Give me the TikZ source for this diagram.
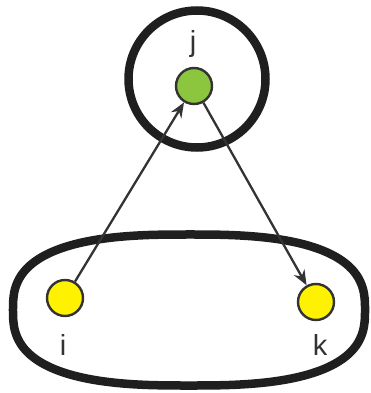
\documentclass[tikz,border=0pt]{standalone}
\usepackage{fontspec}
\setmainfont{Liberation Sans}
\usetikzlibrary{arrows.meta}
\definecolor{nodegreen}{HTML}{8CC63F}
\definecolor{nodeyellow}{HTML}{FFF200}
\definecolor{darkline}{HTML}{333333}
\begin{document}
\begin{tikzpicture}[x=1pt,y=-1pt,
  vertex/.style={circle,draw=darkline,line width=2.4pt,minimum size=36pt,inner sep=0pt},
  lab/.style={text=darkline,font=\fontsize{29}{30}\selectfont,inner sep=0pt},
  group/.style={line width=8.5pt,draw=black!88},
  link/.style={draw=darkline,line width=2.3pt,-{Stealth[length=15pt,width=12pt]}}]
\useasboundingbox (0,0) rectangle (371,393);
\draw[group] (197,79) circle (68.5);
\draw[group] plot[domain=1:361,samples=180,smooth cycle,variable=\t]
  ({189+176*sign(cos(\t))*abs(cos(\t))^0.74},{310-75.5*sign(sin(\t))*abs(sin(\t))^0.74});
\node[vertex,fill=nodegreen] (j) at (194,86) {};
\node[vertex,fill=nodeyellow] (i) at (65,298) {};
\node[vertex,fill=nodeyellow] (k) at (316,302) {};
\node[lab] (lj) at (193,44) {j};
\node[lab] (li) at (63,345) {i};
\node[lab] (lk) at (320,345) {k};
\draw[link] (i) -- (j);
\draw[link] (j) -- (k);
\end{tikzpicture}
\end{document}
